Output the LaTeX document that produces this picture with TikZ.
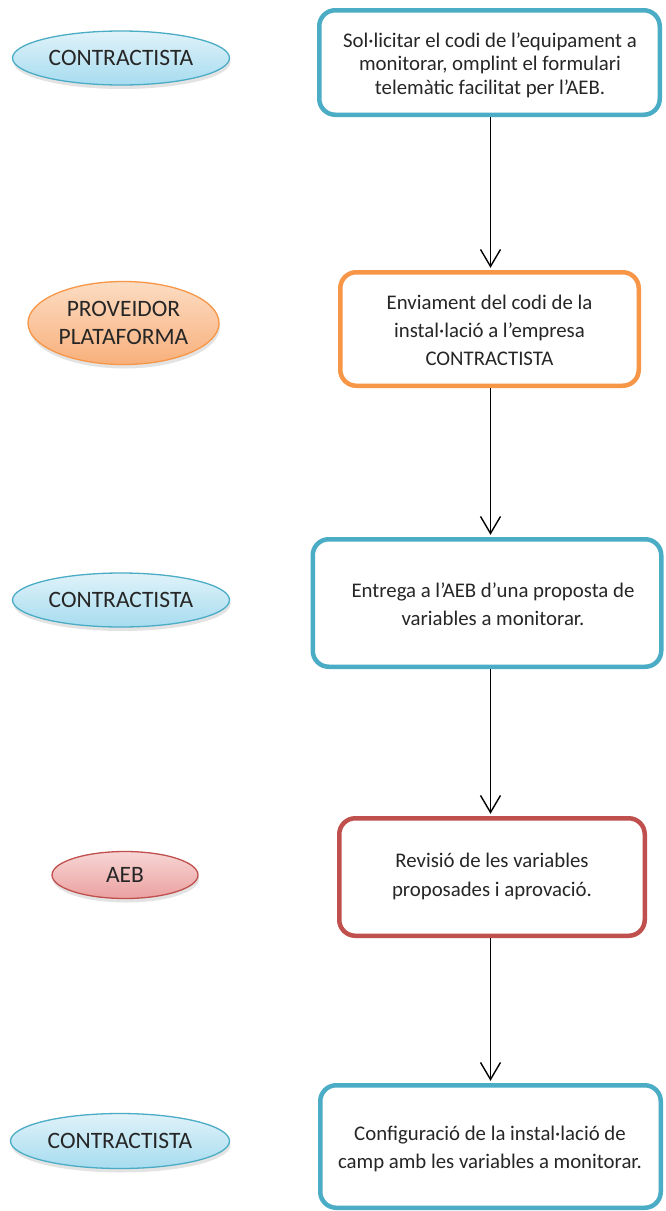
\documentclass[tikz,border=0pt]{standalone}
\usepackage{fontspec}
\setmainfont{Carlito}
\usetikzlibrary{arrows.meta,shadows,shapes.geometric}
\definecolor{cblue}{HTML}{4BACC6}
\definecolor{corange}{HTML}{F79646}
\definecolor{cred}{HTML}{C0504D}
\definecolor{btop}{HTML}{E0F2F9}
\definecolor{bbot}{HTML}{A6DCEF}
\definecolor{otop}{HTML}{FCDCC2}
\definecolor{obot}{HTML}{F8B07C}
\definecolor{rtop}{HTML}{F7D6D5}
\definecolor{rbot}{HTML}{EBA0A0}
\definecolor{txtc}{HTML}{262626}
\begin{document}
\begin{tikzpicture}[x=1pt,y=-1pt,
  box/.style={draw, line width=4.5pt, rounded corners=16pt, fill=white, inner sep=0pt},
  ell/.style={ellipse, draw, line width=1.3pt, inner sep=0pt, align=center,
    font=\fontsize{23.5}{28}\selectfont, text=txtc,
    drop shadow={opacity=0.22, shadow xshift=1pt, shadow yshift=-4pt}},
  bell/.style={ell, draw=cblue, top color=btop, bottom color=bbot},
  oell/.style={ell, draw=corange, top color=otop, bottom color=obot},
  rell/.style={ell, draw=cred, top color=rtop, bottom color=rbot},
  txt/.style={align=center, inner sep=0pt, text=txtc},
  arr/.style={-{Straight Barb[length=17pt,width=20pt]}, line width=1.4pt, shorten >=2.2pt}]
\useasboundingbox (0,0) rectangle (665,1211);
\fill[white] (0,0) rectangle (665,1211);
\coordinate (ax) at (490.5,0);

% boxes
\node[box, draw=cblue, minimum width=340.5pt, minimum height=104.5pt] (b1) at (489.5,62.5) {};
\node[box, draw=corange, minimum width=298.5pt, minimum height=113.5pt] (b2) at (489.5,329) {};
\node[box, draw=cblue, minimum width=348.5pt, minimum height=127.5pt] (b3) at (487,603) {};
\node[box, draw=cred, minimum width=305.5pt, minimum height=117.5pt] (b4) at (492,877) {};
\node[box, draw=cblue, minimum width=340.5pt, minimum height=122.5pt] (b5) at (490.5,1146.5) {};

% box texts
\node[txt, font=\fontsize{20.8}{23.5}\selectfont] (t1) at (490,65) {Sol·licitar el codi de l’equipament a\\monitorar, omplint el formulari\\telemàtic facilitat per l’AEB.};
\node[txt, font=\fontsize{20.8}{28}\selectfont] (t2) at (489.5,330) {Enviament del codi de la\\instal·lació a l’empresa\\CONTRACTISTA};
\node[txt, font=\fontsize{20.8}{28}\selectfont] (t3) at (493,604) {Entrega a l’AEB d’una proposta de\\variables a monitorar.};
\node[txt, font=\fontsize{20.8}{29}\selectfont] (t4) at (492,876.5) {Revisió de les variables\\proposades i aprovació.};
\node[txt, font=\fontsize{20.8}{28}\selectfont] (t5) at (490,1149) {Configuració de la instal·lació de\\camp amb les variables a monitorar.};

% arrows
\draw[arr] (b1.south -| ax) -- (b2.north -| ax);
\draw[arr] (b2.south -| ax) -- (b3.north -| ax);
\draw[arr] (b3.south -| ax) -- (b4.north -| ax);
\draw[arr] (b4.south -| ax) -- (b5.north -| ax);

% actor ellipses
\node[bell, minimum width=217pt, minimum height=54pt] (e1) at (121,58) {CONTRACTISTA};
\node[oell, minimum width=191pt, minimum height=83pt] (e2) at (123.5,323) {PROVEIDOR\\PLATAFORMA};
\node[bell, minimum width=217pt, minimum height=54pt] (e3) at (121,600) {CONTRACTISTA};
\node[rell, minimum width=146pt, minimum height=47pt] (e4) at (125,875) {AEB};
\node[bell, minimum width=219pt, minimum height=55pt] (e5) at (120,1141) {CONTRACTISTA};
\end{tikzpicture}
\end{document}
